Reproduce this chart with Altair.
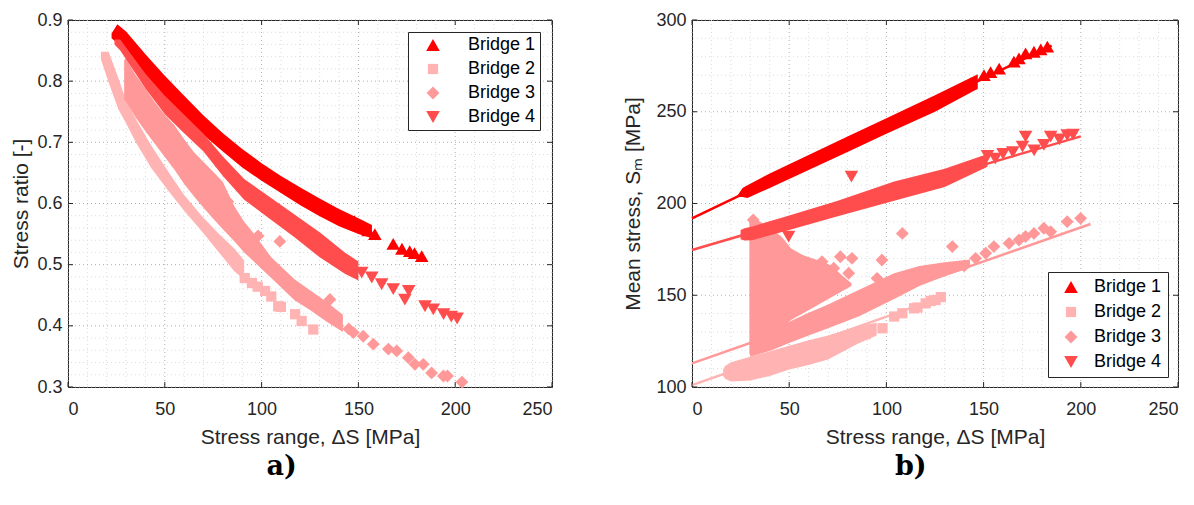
import altair as alt
import pandas as pd

BRIDGES = ["Bridge 1", "Bridge 2", "Bridge 3", "Bridge 4"]
COLORS = ["#ff0000", "#ffb3b3", "#ff9999", "#ff4d4d"]
SHAPES = ["triangle-up", "square", "diamond", "triangle-down"]
SIZES = [185, 105, 165, 185]

X_MAJOR = [0, 50, 100, 150, 200, 250]
X_MINOR = [10, 20, 30, 40, 60, 70, 80, 90, 110, 120, 130, 140, 160, 170, 180, 190, 210, 220, 230, 240]
YA_MAJOR = [0.3, 0.4, 0.5, 0.6, 0.7, 0.8, 0.9]
YA_MINOR = [0.32, 0.34, 0.36, 0.38, 0.42, 0.44, 0.46, 0.48, 0.52, 0.54, 0.56, 0.58,
            0.62, 0.64, 0.66, 0.68, 0.72, 0.74, 0.76, 0.78, 0.82, 0.84, 0.86, 0.88]
YB_MAJOR = [100, 150, 200, 250, 300]
YB_MINOR = [110, 120, 130, 140, 160, 170, 180, 190, 210, 220, 230, 240, 260, 270, 280, 290]

# ---------- panel a: stress ratio vs stress range (dense bands: edges) ----------
A1_V = [22.5, 25.5, 30, 40, 50, 60, 70, 80, 90, 100, 110, 120, 130, 140, 150, 157]
A1_UP = [0.878, 0.893, 0.881, 0.844, 0.809, 0.776, 0.744, 0.715, 0.689, 0.666, 0.645, 0.626, 0.608, 0.591, 0.576, 0.565]
A1_LO = [0.870, 0.862, 0.849, 0.808, 0.773, 0.741, 0.712, 0.685, 0.659, 0.637, 0.617, 0.597, 0.579, 0.563, 0.55, 0.543]

A2_V = [17, 21, 26, 30, 35, 43, 52, 60, 69, 78, 86, 91]
A2_UP = [0.848, 0.848, 0.805, 0.768, 0.738, 0.695, 0.651, 0.614, 0.58, 0.55, 0.526, 0.507]
A2_LO = [0.836, 0.798, 0.754, 0.731, 0.7, 0.658, 0.62, 0.588, 0.555, 0.52, 0.489, 0.476]

A3_V = [29, 30, 35, 40, 45, 50, 55, 60, 65, 70, 75, 80, 86, 91, 96, 105, 117, 125, 134, 142]
A3_UP = [0.835, 0.837, 0.81, 0.788, 0.765, 0.745, 0.728, 0.705, 0.684, 0.668, 0.652, 0.635, 0.595, 0.57,
         0.551, 0.512, 0.476, 0.458, 0.438, 0.418]
A3_LO = [0.77, 0.766, 0.74, 0.718, 0.697, 0.676, 0.655, 0.632, 0.612, 0.593, 0.575, 0.558, 0.538, 0.52,
         0.505, 0.478, 0.442, 0.426, 0.406, 0.39]

A4_V = [24, 27, 30, 40, 50, 60, 70, 80, 91, 100, 117, 130, 143, 150]
A4_UP = [0.868, 0.868, 0.855, 0.812, 0.776, 0.745, 0.714, 0.677, 0.64, 0.62, 0.582, 0.553, 0.52, 0.505]
A4_LO = [0.86, 0.85, 0.836, 0.788, 0.746, 0.715, 0.685, 0.645, 0.606, 0.585, 0.545, 0.512, 0.485, 0.474]

# ---------- panel a: individual markers ----------
A1_PV = [148, 152, 155, 158.5, 168, 172.5, 176.5, 179, 182.7]
A1_PR = [0.571, 0.563, 0.556, 0.55, 0.534, 0.526, 0.522, 0.519, 0.514]
A2_PV = [91.3, 95, 98, 101.8, 105, 108.6, 110, 117.3, 120.7, 126.7]
A2_PR = [0.478, 0.47, 0.464, 0.457, 0.448, 0.432, 0.431, 0.419, 0.408, 0.394]
A3_PV = [82.6, 98.2, 109.4, 135.3, 145, 147.4, 152.5, 157.7, 165.5, 169.8, 175.8, 179.2, 183.5, 187.8, 193.9, 196, 203.5]
A3_PR = [0.603, 0.547, 0.538, 0.443, 0.395, 0.389, 0.383, 0.37, 0.362, 0.359, 0.348, 0.337, 0.337, 0.323, 0.318, 0.318, 0.308]
A4_PV = [151.7, 156.9, 162, 168, 174, 176, 184.4, 188.7, 194, 198, 201]
A4_PR = [0.487, 0.479, 0.468, 0.46, 0.443, 0.457, 0.432, 0.427, 0.419, 0.415, 0.412]

# ---------- panel b: mean stress vs stress range ----------
B1_V = [23.5, 26, 28.5, 40, 60, 80, 100, 125, 147]
B1_UP = [204.5, 208.5, 210, 216.4, 226.4, 236.5, 246.5, 259, 270.5]
B1_LO = [203.5, 203.5, 203, 208.5, 218.3, 228.1, 238, 250, 262.5]

B2_V = [16, 17, 20, 30, 40, 50, 60, 70, 85, 95]
B2_UP = [109.5, 111.5, 113.5, 116.5, 119.5, 122.5, 125.5, 128, 133, 135]
B2_LO = [106, 104.5, 103, 103.5, 106, 109.5, 112, 115, 123.5, 128]

B3_V = [30, 41, 50, 60, 70, 86, 104, 117, 130, 143]
B3_UP = [124, 130.5, 135.5, 140.5, 145, 153, 162, 166, 168, 169.5]
B3_LO = [116.5, 120, 124, 128, 132, 138.5, 148, 155, 160.5, 165]

B3_BLOB_V = [29.5, 30.5, 35, 41, 46, 51, 57, 62, 67, 72, 77, 82]
B3_BLOB_UP = [191, 193, 190, 186, 182, 175.5, 172, 170, 168.5, 166, 161, 156.5]
B3_BLOB_LO = [118, 117, 121, 127, 131.5, 136.7, 140, 143, 146, 149, 152, 155]

B4_V = [25, 27, 31, 50, 75, 104, 130, 152]
B4_UP = [185.5, 186.5, 187.5, 193.5, 201.5, 212, 219, 227]
B4_LO = [180.5, 179.8, 180, 185.5, 193, 201.5, 209, 220]

B1_PV = [143.3, 150.2, 153.6, 158, 165.6, 168.2, 171.6, 175.9, 179.4, 182.8]
B1_PS = [265.5, 270, 271.6, 273.5, 277.3, 279.1, 281.8, 282.7, 284, 285.5]
B2_PV = [89.3, 98, 104, 108.2, 114.2, 116, 120.2, 122.8, 125.3, 128]
B2_PS = [128.8, 132, 138.4, 140.2, 142.9, 143.3, 145.6, 146.9, 147.4, 149]
B3_PV = [31.5, 51.4, 60, 61.7, 66.9, 72.9, 76.3, 80.6, 82.3, 95.2, 97.7, 108.2, 133.9, 140, 145.9,
         151.1, 155.3, 163.1, 168.2, 171.6, 175.9, 181, 184.5, 193, 199.9]
B3_PS = [191, 140.1, 147.4, 156.5, 168.3, 164.7, 171, 162, 170.1, 159.2, 169.2, 183.7, 176.5, 166, 170.1,
         172.9, 176.5, 178.3, 180.1, 182, 183.7, 186.5, 184.6, 190.1, 191.9]
B4_PV = [49.7, 82, 152, 156, 160, 165, 170, 171.6, 176, 181, 184.5, 189, 193, 196]
B4_PS = [181.9, 214.6, 226, 224.5, 227, 228, 231, 236.4, 229, 232, 236.4, 235, 237.3, 237.5]

# fitted lines (end points)
B1_LV, B1_LS = [0, 185], [191.9, 286]
B2_LV, B2_LS = [0, 130], [101, 149.5]
B3_LV, B3_LS = [0, 205], [112.9, 188.8]
B4_LV, B4_LS = [0, 200], [174.7, 236.6]

AX_COLOR = "#262626"
FONT = "Liberation Sans"


def build_panel(W, H, ydom, ymaj, ymin, yfmt, ytitle, ytitle_pad, bands, pts, lines,
                leg, label, label_dx):
    xs = alt.Scale(domain=[0, 250], nice=False, zero=False)
    ys = alt.Scale(domain=ydom, nice=False, zero=False)
    xax = alt.Axis(values=X_MAJOR, ticks=False, domain=False, grid=False, labelFontSize=18, labelFont=FONT,
                   labelColor=AX_COLOR, labelPadding=13, title="Stress range, \u0394S [MPa]", titleFontSize=21,
                   titleFont=FONT, titleFontWeight="normal", titleColor=AX_COLOR, titlePadding=8)
    yax = alt.Axis(values=ymaj, ticks=False, domain=False, grid=False, labelFontSize=18, labelFont=FONT,
                   labelColor=AX_COLOR, labelPadding=6, format=yfmt, title=ytitle, titleFontSize=21,
                   titleFont=FONT, titleFontWeight="normal", titleColor=AX_COLOR, titlePadding=ytitle_pad)
    X = lambda f: alt.X(f, scale=xs, axis=xax)
    Y = lambda f: alt.Y(f, scale=ys, axis=yax)

    layers = []
    for vals, col in [(X_MINOR, "#dcdcdc"), (X_MAJOR, "#b0b0b0")]:
        layers.append(alt.Chart(pd.DataFrame({"g": vals})).mark_rule(color=col, strokeDash=[1, 3], strokeWidth=1)
                      .encode(x=X("g:Q")))
    for vals, col in [(ymin, "#dcdcdc"), (ymaj, "#b0b0b0")]:
        layers.append(alt.Chart(pd.DataFrame({"g": vals})).mark_rule(color=col, strokeDash=[1, 3], strokeWidth=1)
                      .encode(y=Y("g:Q")))

    for (lv, ls, col) in lines:
        layers.append(alt.Chart(pd.DataFrame({"v": lv, "s": ls})).mark_line(color=col, strokeWidth=2.5)
                      .encode(x=X("v:Q"), y=Y("s:Q")))

    for (bv, bu, bl, col) in bands:
        layers.append(alt.Chart(pd.DataFrame({"v": bv, "up": bu, "lo": bl})).mark_area(color=col, opacity=1)
                      .encode(x=X("v:Q"), y=Y("up:Q"), y2="lo:Q"))

    rows = []
    for name, pv, py in pts:
        for a, b in zip(pv, py):
            rows.append({"v": a, "y": b, "bridge": name})
    layers.append(alt.Chart(pd.DataFrame(rows)).mark_point(filled=True, opacity=1, strokeWidth=0)
                  .encode(x=X("v:Q"), y=Y("y:Q"),
                          color=alt.Color("bridge:N", scale=alt.Scale(domain=BRIDGES, range=COLORS), legend=leg),
                          shape=alt.Shape("bridge:N", scale=alt.Scale(domain=BRIDGES, range=SHAPES), legend=leg),
                          size=alt.Size("bridge:N", scale=alt.Scale(type="ordinal", domain=BRIDGES, range=SIZES),
                                        legend=leg)))

    # inward ticks on all four sides
    dfx = pd.DataFrame({"g": X_MAJOR})
    dfy = pd.DataFrame({"g": ymaj})
    layers.append(alt.Chart(dfx).mark_rule(color=AX_COLOR, strokeWidth=1)
                  .encode(x=X("g:Q"), y=alt.value(H), y2=alt.value(H - 5)))
    layers.append(alt.Chart(dfx).mark_rule(color=AX_COLOR, strokeWidth=1)
                  .encode(x=X("g:Q"), y=alt.value(0), y2=alt.value(5)))
    layers.append(alt.Chart(dfy).mark_rule(color=AX_COLOR, strokeWidth=1)
                  .encode(y=Y("g:Q"), x=alt.value(0), x2=alt.value(5)))
    layers.append(alt.Chart(dfy).mark_rule(color=AX_COLOR, strokeWidth=1)
                  .encode(y=Y("g:Q"), x=alt.value(W), x2=alt.value(W - 5)))

    return alt.layer(*layers).properties(
        width=W, height=H,
        title=alt.TitleParams(label, orient="bottom", anchor="middle", frame="bounds", font="DejaVu Serif",
                              fontSize=27, fontWeight="bold", color="black", offset=7, dx=label_dx))


leg_a = alt.Legend(title=None, orient="top-right", offset=12, padding=4, strokeColor=AX_COLOR,
                   fillColor="white", labelFontSize=18, labelFont=FONT, labelColor="black",
                   symbolOffset=12, labelOffset=26, rowPadding=6, symbolStrokeWidth=0)
leg_b = alt.Legend(title=None, orient="bottom-right", offset=10, padding=6, strokeColor=AX_COLOR,
                   fillColor="white", labelFontSize=18, labelFont=FONT, labelColor="black",
                   symbolOffset=8, labelOffset=14, rowPadding=7, symbolStrokeWidth=0)

panel_a = build_panel(
    484, 367, [0.3, 0.9], YA_MAJOR, YA_MINOR, ".1f", "Stress ratio [-]", 5,
    bands=[(A1_V, A1_UP, A1_LO, COLORS[0]), (A2_V, A2_UP, A2_LO, COLORS[1]),
           (A3_V, A3_UP, A3_LO, COLORS[2]), (A4_V, A4_UP, A4_LO, COLORS[3])],
    pts=[("Bridge 1", A1_PV, A1_PR), ("Bridge 2", A2_PV, A2_PR),
         ("Bridge 3", A3_PV, A3_PR), ("Bridge 4", A4_PV, A4_PR)],
    lines=[], leg=leg_a, label="a)", label_dx=0)

panel_b = build_panel(
    486, 367, [100, 300], YB_MAJOR, YB_MINOR, "d", "Mean stress, S\u2098 [MPa]", 12,
    bands=[(B1_V, B1_UP, B1_LO, COLORS[0]), (B2_V, B2_UP, B2_LO, COLORS[1]),
           (B3_BLOB_V, B3_BLOB_UP, B3_BLOB_LO, COLORS[2]), (B3_V, B3_UP, B3_LO, COLORS[2]),
           (B4_V, B4_UP, B4_LO, COLORS[3])],
    pts=[("Bridge 1", B1_PV, B1_PS), ("Bridge 2", B2_PV, B2_PS),
         ("Bridge 3", B3_PV, B3_PS), ("Bridge 4", B4_PV, B4_PS)],
    lines=[(B1_LV, B1_LS, COLORS[0]), (B2_LV, B2_LS, COLORS[1]),
           (B3_LV, B3_LS, COLORS[2]), (B4_LV, B4_LS, COLORS[3])],
    leg=leg_b, label="b)", label_dx=10)

chart = alt.hconcat(panel_a, panel_b, spacing=69).resolve_scale(
    color="independent", shape="independent", size="independent").resolve_legend(
    color="independent", shape="independent", size="independent").properties(
    padding={"left": 2, "top": 2, "right": 0, "bottom": 0}
).configure_view(stroke=AX_COLOR, strokeWidth=1)

chart.save("out.html", embed_options={"renderer": "svg", "actions": False})
